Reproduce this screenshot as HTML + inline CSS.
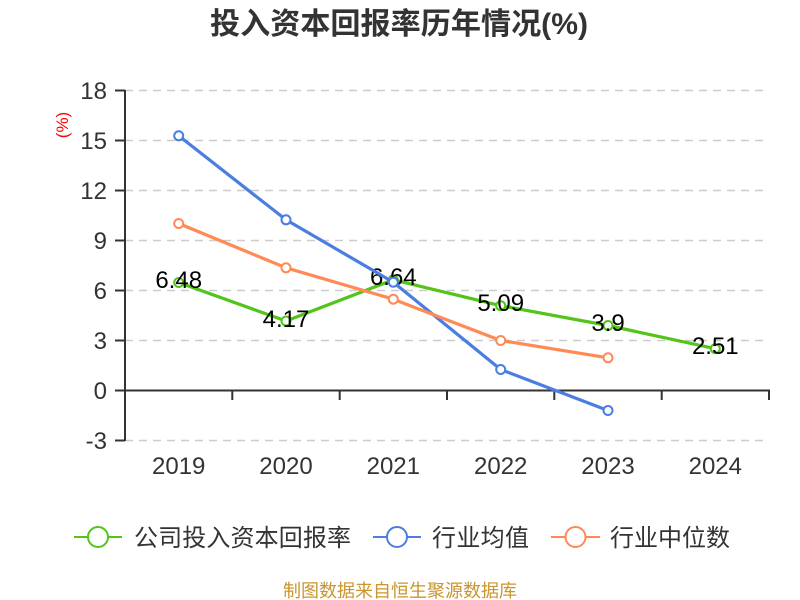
<!DOCTYPE html>
<html>
<head>
<meta charset="utf-8">
<style>
  html, body { margin:0; padding:0; background:#fff; }
  svg { display:block; }
  text { font-family: "Liberation Sans", "Noto Sans CJK SC", sans-serif; }
</style>
</head>
<body>
<svg width="800" height="600" viewBox="0 0 800 600" xmlns="http://www.w3.org/2000/svg">
  <rect width="800" height="600" fill="#fff"/>
  <!-- Title -->
  <text x="210" y="34" font-size="30" font-weight="bold" fill="#333" textLength="378" lengthAdjust="spacingAndGlyphs">投入资本回报率历年情况(%)</text>

  <!-- Y unit -->
  <text transform="translate(68,125) rotate(-90)" text-anchor="middle" font-size="17" fill="#ff0000">(%)</text>

  <!-- Grid lines -->
  <g stroke="#cccccc" stroke-width="1.5" stroke-dasharray="8,6">
    <line x1="125" y1="90.5" x2="769" y2="90.5"/>
    <line x1="125" y1="140.5" x2="769" y2="140.5"/>
    <line x1="125" y1="190.5" x2="769" y2="190.5"/>
    <line x1="125" y1="240.5" x2="769" y2="240.5"/>
    <line x1="125" y1="290.5" x2="769" y2="290.5"/>
    <line x1="125" y1="340.5" x2="769" y2="340.5"/>
    <line x1="125" y1="440.5" x2="769" y2="440.5"/>
  </g>

  <!-- Axes -->
  <g stroke="#333" stroke-width="2">
    <line x1="125" y1="90" x2="125" y2="441"/>
    <line x1="124" y1="390.5" x2="770" y2="390.5"/>
    <line x1="115" y1="90.5" x2="125" y2="90.5"/>
    <line x1="115" y1="140.5" x2="125" y2="140.5"/>
    <line x1="115" y1="190.5" x2="125" y2="190.5"/>
    <line x1="115" y1="240.5" x2="125" y2="240.5"/>
    <line x1="115" y1="290.5" x2="125" y2="290.5"/>
    <line x1="115" y1="340.5" x2="125" y2="340.5"/>
    <line x1="115" y1="390.5" x2="125" y2="390.5"/>
    <line x1="115" y1="440.5" x2="125" y2="440.5"/>
    <line x1="232.3" y1="390" x2="232.3" y2="400"/>
    <line x1="339.7" y1="390" x2="339.7" y2="400"/>
    <line x1="447" y1="390" x2="447" y2="400"/>
    <line x1="554.3" y1="390" x2="554.3" y2="400"/>
    <line x1="661.7" y1="390" x2="661.7" y2="400"/>
    <line x1="769" y1="390" x2="769" y2="400"/>
  </g>

  <!-- Y labels -->
  <g font-size="24" fill="#333" text-anchor="end">
    <text x="107" y="99">18</text>
    <text x="107" y="149">15</text>
    <text x="107" y="199">12</text>
    <text x="107" y="249">9</text>
    <text x="107" y="299">6</text>
    <text x="107" y="349">3</text>
    <text x="107" y="399">0</text>
    <text x="107" y="449">-3</text>
  </g>

  <!-- X labels -->
  <g font-size="24" fill="#333" text-anchor="middle">
    <text x="178.7" y="474">2019</text>
    <text x="286" y="474">2020</text>
    <text x="393.3" y="474">2021</text>
    <text x="500.7" y="474">2022</text>
    <text x="608" y="474">2023</text>
    <text x="715.3" y="474">2024</text>
  </g>

  <!-- Green series -->
  <polyline fill="none" stroke="#52c41a" stroke-width="3.2" stroke-linejoin="round"
    points="178.7,282.5 286,321 393.3,279.8 500.7,305.7 608,325.5 715.3,348.7"/>
  <g fill="#fff" stroke="#52c41a" stroke-width="2">
    <circle cx="178.7" cy="282.5" r="4.5"/>
    <circle cx="286" cy="321" r="4.5"/>
    <circle cx="393.3" cy="279.8" r="4.5"/>
    <circle cx="500.7" cy="305.7" r="4.5"/>
    <circle cx="608" cy="325.5" r="4.5"/>
    <circle cx="715.3" cy="348.7" r="4.5"/>
  </g>
  <g font-size="24" fill="#000" text-anchor="middle">
    <text x="178.7" y="288">6.48</text>
    <text x="286" y="327">4.17</text>
    <text x="393.3" y="285">6.64</text>
    <text x="500.7" y="311">5.09</text>
    <text x="608" y="331">3.9</text>
    <text x="715.3" y="354">2.51</text>
  </g>

  <!-- Blue series -->
  <polyline fill="none" stroke="#4a7ee0" stroke-width="3.2" stroke-linejoin="round"
    points="178.7,135.8 286,219.8 393.3,282.2 500.7,369.5 608,410.5"/>
  <g fill="#fff" stroke="#4a7ee0" stroke-width="2">
    <circle cx="178.7" cy="135.8" r="4.5"/>
    <circle cx="286" cy="219.8" r="4.5"/>
    <circle cx="393.3" cy="282.2" r="4.5"/>
    <circle cx="500.7" cy="369.5" r="4.5"/>
    <circle cx="608" cy="410.5" r="4.5"/>
  </g>

  <!-- Orange series -->
  <polyline fill="none" stroke="#ff8a55" stroke-width="3.2" stroke-linejoin="round"
    points="178.7,223.5 286,267.8 393.3,299.2 500.7,340.5 608,357.8"/>
  <g fill="#fff" stroke="#ff8a55" stroke-width="2">
    <circle cx="178.7" cy="223.5" r="4.5"/>
    <circle cx="286" cy="267.8" r="4.5"/>
    <circle cx="393.3" cy="299.2" r="4.5"/>
    <circle cx="500.7" cy="340.5" r="4.5"/>
    <circle cx="608" cy="357.8" r="4.5"/>
  </g>

  <!-- Legend -->
  <g stroke-width="2" fill="#fff">
    <line x1="74" y1="537" x2="122" y2="537" stroke="#52c41a"/>
    <circle cx="98" cy="537" r="10" stroke="#52c41a"/>
    <line x1="373" y1="537" x2="421" y2="537" stroke="#4a7ee0"/>
    <circle cx="397" cy="537" r="10" stroke="#4a7ee0"/>
    <line x1="551" y1="537" x2="600" y2="537" stroke="#ff8a55"/>
    <circle cx="575.5" cy="537" r="10" stroke="#ff8a55"/>
  </g>
  <g font-size="24" fill="#333">
    <text x="134" y="546" textLength="217" lengthAdjust="spacing">公司投入资本回报率</text>
    <text x="432" y="546" textLength="97" lengthAdjust="spacing">行业均值</text>
    <text x="610" y="546" textLength="120" lengthAdjust="spacing">行业中位数</text>
  </g>

  <!-- Footer -->
  <text x="400" y="597" font-size="18" fill="#c9952c" text-anchor="middle" textLength="234" lengthAdjust="spacing">制图数据来自恒生聚源数据库</text>
</svg>
</body>
</html>
